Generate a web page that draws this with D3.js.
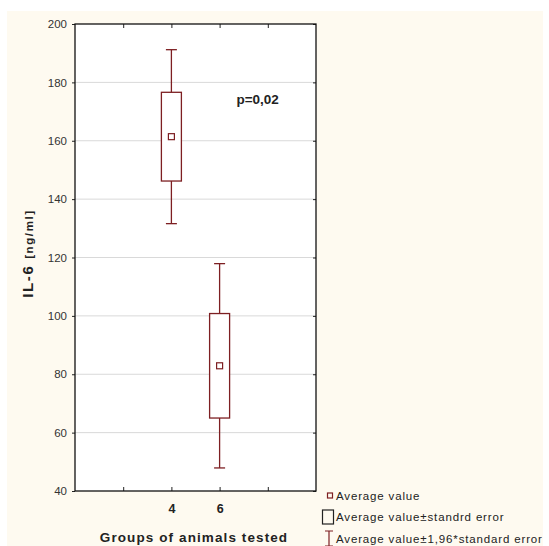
<!DOCTYPE html>
<html>
<head>
<meta charset="utf-8">
<script src="https://cdn.jsdelivr.net/npm/d3@7"></script>
<style>
  body { margin: 0; background: #fff; }
  svg text { font-family: "Liberation Sans", Arial, sans-serif; }
</style>
</head>
<body>
<svg id="chart" width="549" height="546"></svg>
<script>
// groups on the x axis and their statistics
var groups = ["4", "6"];
var groupPos = [2, 3];
var means = [161.4, 82.9];
var stdErr = [15.2, 17.9];
var ci196 = [29.8, 35.0];
var yTicks = [40, 60, 80, 100, 120, 140, 160, 180, 200];
var xTicks = [1, 2, 3, 4];
var legendLabels = ["Average value", "Average value\u00b1standrd error", "Average value\u00b11,96*standard error"];

var svg = d3.select("#chart");
var color = "#7d1f22";

svg.append("rect")
    .attr("x", 7).attr("y", 11)
    .attr("width", 536).attr("height", 535)
    .attr("fill", "#fefaf0");

var margin = {top: 24, left: 75, right: 233, bottom: 55},
    width = 549 - margin.left - margin.right,
    height = 546 - margin.top - margin.bottom;

var x = d3.scaleLinear().domain([0, 5]).range([0, width]);
var y = d3.scaleLinear().domain([40, 200]).range([height, 0]);

var g = svg.append("g")
    .attr("transform", "translate(" + margin.left + "," + margin.top + ")");

g.append("rect")
    .attr("width", width).attr("height", height)
    .attr("fill", "#fff");

// grid
g.selectAll(".grid")
    .data(yTicks.slice(1, -1))
    .enter().append("line")
    .attr("x1", 0).attr("x2", width)
    .attr("y1", function(d) { return y(d); })
    .attr("y2", function(d) { return y(d); })
    .attr("stroke", "#d9d9d9").attr("stroke-width", 1);

// axes
var yAxis = d3.axisLeft(y).tickValues(yTicks).tickSize(3).tickPadding(5);
var yAxisR = d3.axisRight(y).tickValues(yTicks).tickSize(-3).tickFormat("");
var xAxisTop = d3.axisTop(x).tickValues(xTicks).tickSize(-4).tickFormat("");
var xAxisBot = d3.axisBottom(x).tickValues(xTicks).tickSize(-4)
    .tickFormat(function(d) { var i = groupPos.indexOf(d); return i >= 0 ? groups[i] : ""; });

var ya = g.append("g").call(yAxis);
ya.selectAll("text").attr("font-size", 11.5).attr("fill", "#333");
g.append("g").attr("transform", "translate(" + width + ",0)").call(yAxisR);
g.append("g").call(xAxisTop);
var xa = g.append("g").attr("transform", "translate(0," + height + ")").call(xAxisBot);
xa.selectAll("text").attr("font-size", 12.5).attr("font-weight", "bold")
    .attr("fill", "#222").attr("dy", "1.5em");
g.selectAll(".domain").remove();
g.selectAll(".tick line").attr("stroke", "#222");

g.append("rect")
    .attr("width", width).attr("height", height)
    .attr("fill", "none").attr("stroke", "#111").attr("stroke-width", 1.3);

// whiskers, boxes, means
var boxW = 20, capW = 11, meanS = 6;
var items = g.selectAll(".item")
    .data(groups.map(function(d, i) { return {pos: groupPos[i], m: means[i], se: stdErr[i], ci: ci196[i]}; }))
    .enter().append("g");

items.append("line")
    .attr("x1", function(d) { return x(d.pos); }).attr("x2", function(d) { return x(d.pos); })
    .attr("y1", function(d) { return y(d.m + d.ci); }).attr("y2", function(d) { return y(d.m - d.ci); })
    .attr("stroke", color).attr("stroke-width", 1.3);
items.selectAll(".cap")
    .data(function(d) { return [d.m + d.ci, d.m - d.ci].map(function(v) { return {pos: d.pos, v: v}; }); })
    .enter().append("line")
    .attr("x1", function(d) { return x(d.pos) - capW / 2; })
    .attr("x2", function(d) { return x(d.pos) + capW / 2; })
    .attr("y1", function(d) { return y(d.v); }).attr("y2", function(d) { return y(d.v); })
    .attr("stroke", color).attr("stroke-width", 1.3);
items.append("rect")
    .attr("x", function(d) { return x(d.pos) - boxW / 2; })
    .attr("y", function(d) { return y(d.m + d.se); })
    .attr("width", boxW)
    .attr("height", function(d) { return y(d.m - d.se) - y(d.m + d.se); })
    .attr("fill", "#fff").attr("stroke", color).attr("stroke-width", 1.3);
items.append("rect")
    .attr("x", function(d) { return x(d.pos) - meanS / 2; })
    .attr("y", function(d) { return y(d.m) - meanS / 2; })
    .attr("width", meanS).attr("height", meanS)
    .attr("fill", "#fff").attr("stroke", color).attr("stroke-width", 1.2);

g.append("text")
    .attr("x", x(3.35)).attr("y", y(172.6))
    .attr("font-size", 13.5).attr("font-weight", "bold").attr("fill", "#222")
    .text("p=0,02");

// axis titles
var yl = svg.append("text")
    .attr("transform", "translate(33," + (margin.top + y(120) - 4) + ") rotate(-90)")
    .attr("text-anchor", "middle").attr("font-weight", "bold").attr("fill", "#222")
    .attr("letter-spacing", 1.6);
yl.append("tspan").attr("font-size", 15).text("IL-6 ");
yl.append("tspan").attr("font-size", 11.5).text("[ng/ml]");

svg.append("text")
    .attr("x", 194).attr("y", 542)
    .attr("text-anchor", "middle")
    .attr("font-size", 13.5).attr("font-weight", "bold").attr("fill", "#222")
    .attr("letter-spacing", 1.1)
    .text("Groups of animals tested");

// legend
var lg = svg.append("g").attr("transform", "translate(322,0)");
var rows = [496, 517, 539];
lg.selectAll(".lt")
    .data(legendLabels)
    .enter().append("text")
    .attr("x", 14).attr("y", function(d, i) { return rows[i] + 4; })
    .attr("font-size", 11.5).attr("letter-spacing", 0.85).attr("fill", "#222")
    .text(function(d) { return d; });
lg.append("rect").attr("x", 5.5).attr("y", rows[0] - 3).attr("width", 5).attr("height", 5)
    .attr("fill", "none").attr("stroke", color).attr("stroke-width", 1.2);
lg.append("rect").attr("x", 0.5).attr("y", rows[1] - 7).attr("width", 11).attr("height", 14)
    .attr("fill", "none").attr("stroke", "#222").attr("stroke-width", 1.2);
lg.append("path")
    .attr("d", "M3," + (rows[2] - 8) + "H11M7," + (rows[2] - 8) + "V" + (rows[2] + 7) + "M3," + (rows[2] + 7) + "H11")
    .attr("fill", "none").attr("stroke", color).attr("stroke-width", 1.2);
</script>
</body>
</html>
